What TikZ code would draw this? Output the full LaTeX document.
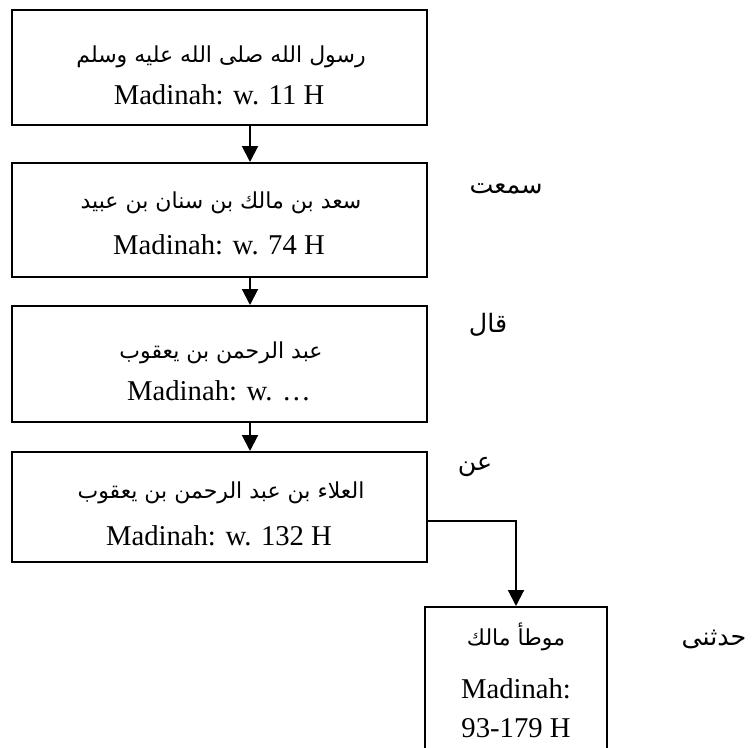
\documentclass[tikz,border=0pt]{standalone}
\usepackage{fontspec}
\setmainfont{Liberation Serif}
\newfontfamily\arabicfont[Script=Arabic]{DejaVu Sans}
\TeXXeTstate=1
\usetikzlibrary{arrows.meta}
\tikzset{
  box/.style={draw, line width=1.5pt, minimum width=#1*0.75pt, inner sep=0pt},
  ar/.style={anchor=base, inner sep=0pt, font=\arabicfont\fontsize{16.5}{18}\selectfont},
  lab/.style={anchor=base, inner sep=0pt, font=\arabicfont\fontsize{19}{21}\selectfont},
  en/.style={anchor=base, inner sep=0pt, font=\fontsize{21.5}{24}\selectfont},
  conn/.style={line width=1.5pt, -{Triangle[width=12pt,length=12pt]}}
}
\begin{document}
\begin{tikzpicture}[x=0.75pt,y=-0.75pt]
\useasboundingbox (0,0) rectangle (752,747);
\clip (0,0) rectangle (752,747);
% boxes
\node[box=415, minimum height=115*0.75pt] (b1) at (219.5,67.5) {};
\node[box=415, minimum height=114*0.75pt] (b2) at (219.5,220) {};
\node[box=415, minimum height=116*0.75pt] (b3) at (219.5,364) {};
\node[box=415, minimum height=110*0.75pt] (b4) at (219.5,507) {};
\node[box=182, minimum height=160*0.75pt] (b5) at (516,687) {};
% texts
\node[ar] (t1a) at (221,62) {\beginR رسول الله صلى الله عليه وسلم\endR};
\node[en] (t1e) at (219,104) {Madinah: w. 11 H};
\node[ar] (t2a) at (221,208) {\beginR سعد بن مالك بن سنان بن عبيد\endR};
\node[en] (t2e) at (219,254) {Madinah: w. 74 H};
\node[ar] (t3a) at (221,358) {\beginR عبد الرحمن بن يعقوب\endR};
\node[en] (t3e) at (219,400) {Madinah: w. \dots};
\node[ar] (t4a) at (221,498) {\beginR العلاء بن عبد الرحمن بن يعقوب\endR};
\node[en] (t4e) at (219,545) {Madinah: w. 132 H};
\node[ar] (t5a) at (516,645) {\beginR موطأ مالك\endR};
\node[en] (t5e) at (516,698) {Madinah:};
\node[en] (t5f) at (516,737) {93-179 H};
% side labels
\node[lab] (l1) at (506,193) {\beginR سمعت\endR};
\node[lab] (l2) at (488,332) {\beginR قال\endR};
\node[lab] (l3) at (475,470) {\beginR عن\endR};
\node[lab] (l4) at (714,645) {\beginR حدثنى\endR};
% connectors
\draw[conn] (b1.south -| 250,0) -- (b2.north -| 250,0);
\draw[conn] (b2.south -| 250,0) -- (b3.north -| 250,0);
\draw[conn] (b3.south -| 250,0) -- (b4.north -| 250,0);
\draw[conn] (b4.east |- 0,521) -| (b5.north);
\end{tikzpicture}
\end{document}
